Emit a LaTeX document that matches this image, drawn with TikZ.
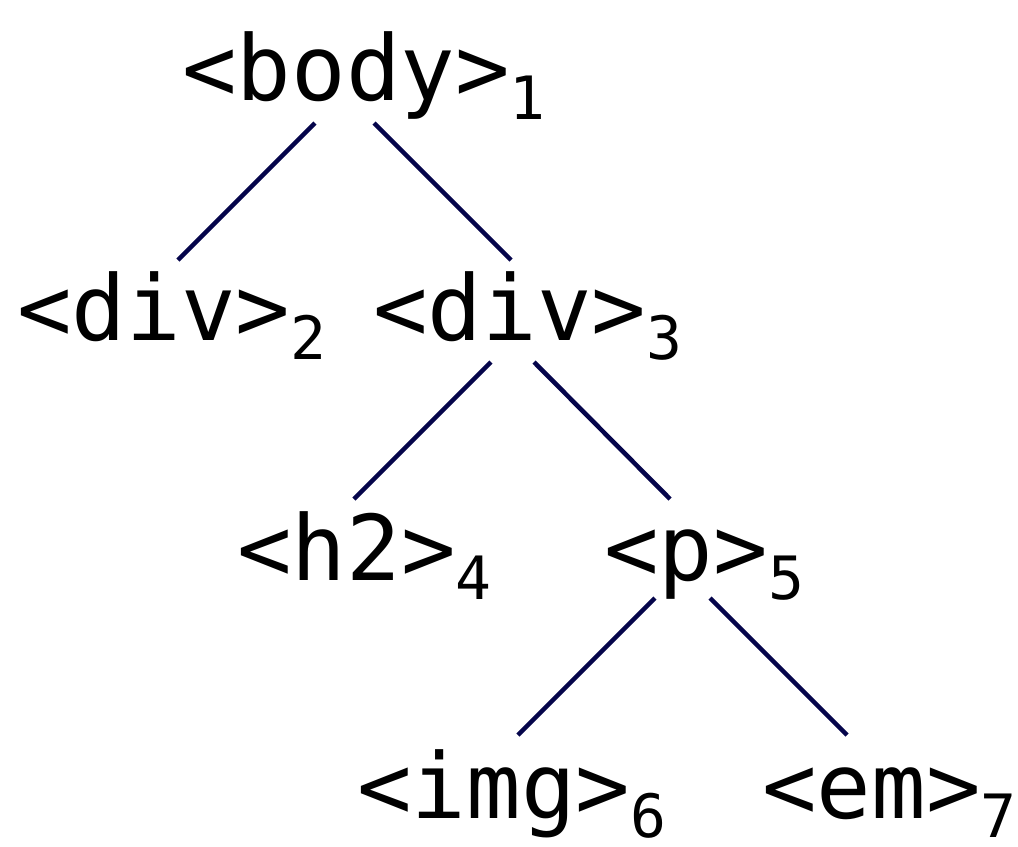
\documentclass[tikz,border=0pt]{standalone}
\usepackage{fontspec}
\setmonofont{DejaVu Sans Mono}
\usetikzlibrary{calc}
\definecolor{edgecol}{RGB}{5,5,75}
\newcommand{\tagsub}[1]{\raisebox{-0.38cm}{\fontsize{34}{34}\selectfont #1}}
\tikzset{
  tagnode/.style={anchor=base west,inner sep=0pt,font=\ttfamily\fontsize{51.6}{52}\selectfont},
  edge/.style={draw=edgecol,line width=2.6pt}
}
\begin{document}
\begin{tikzpicture}[x=0.02cm,y=-0.02cm]
\useasboundingbox (0,0) rectangle (1018,846);
\node[tagnode] (body) at (182,100) {<body>\tagsub{1}};
\node[tagnode] (div2) at (17,340) {<div>\tagsub{2}};
\node[tagnode] (div3) at (373,340) {<div>\tagsub{3}};
\node[tagnode] (h2) at (237,580) {<h2>\tagsub{4}};
\node[tagnode] (p) at (604,580) {<p>\tagsub{5}};
\node[tagnode] (img) at (357,818) {<img>\tagsub{6}};
\node[tagnode] (em) at (762,818) {<em>\tagsub{7}};
\draw[edge] ($(body.base west)+(133,23)$) -- ($(div2.base west)+(161,-80)$);
\draw[edge] ($(body.base west)+(192,23)$) -- ($(div3.base west)+(138,-80)$);
\draw[edge] ($(div3.base west)+(118,22)$) -- ($(h2.base west)+(117,-81)$);
\draw[edge] ($(div3.base west)+(161,22)$) -- ($(p.base west)+(66,-81)$);
\draw[edge] ($(p.base west)+(51,18)$) -- ($(img.base west)+(161,-83)$);
\draw[edge] ($(p.base west)+(106,18)$) -- ($(em.base west)+(85,-83)$);
\end{tikzpicture}
\end{document}
